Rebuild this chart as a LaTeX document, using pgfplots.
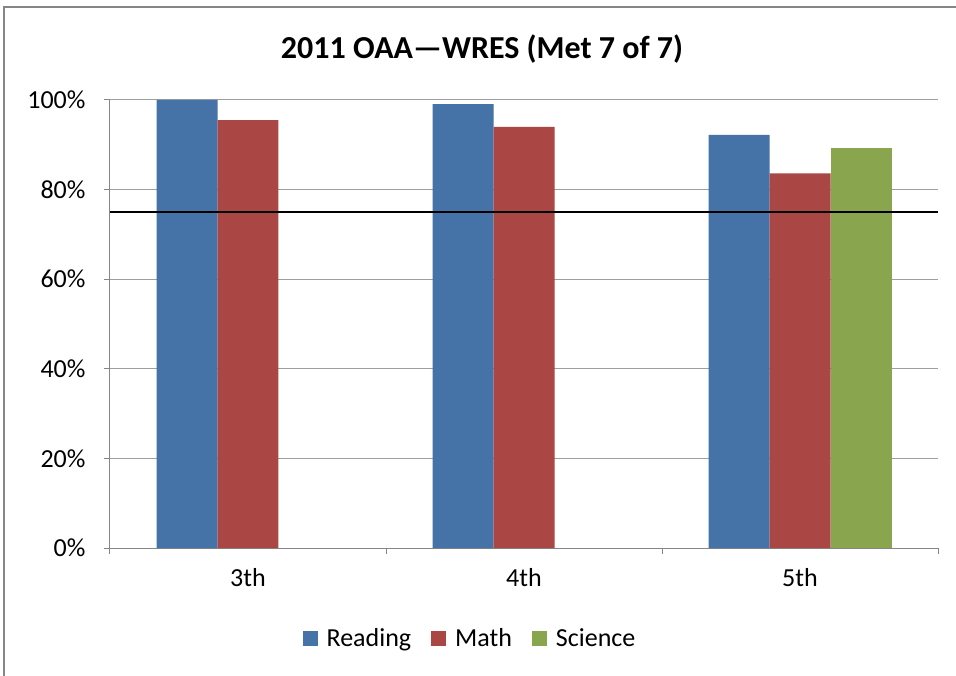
\documentclass[border=0pt]{standalone}
\usepackage{fontspec}
\setmainfont{Carlito}
\usepackage{pgfplots}
\pgfplotsset{compat=1.18}

\definecolor{cRead}{HTML}{4572A7}
\definecolor{cMath}{HTML}{AA4643}
\definecolor{cSci}{HTML}{89A54E}
\definecolor{gridgray}{HTML}{868686}

\begin{document}
\begin{tikzpicture}[x=1pt,y=1pt]
\useasboundingbox (0,0) rectangle (956,675);
\draw[gridgray, line width=1.5pt] (4,-20) rectangle (990,668);
\node[font=\bfseries\fontsize{32}{38}\selectfont] at (482,626) {2011 OAA—WRES (Met 7 of 7)};
\begin{axis}[
    at={(110pt,127pt)}, anchor=south west,
    scale only axis, width=828pt, height=448pt,
    ybar, bar width=0.221,
    xmin=0.5, xmax=3.5, ymin=0, ymax=100,
    axis x line=bottom, axis y line=left,
    axis line style={draw=gridgray, line width=1pt, -},
    tick align=outside, major tick length=6pt,
    tick style={draw=gridgray, line width=1pt},
    xtick={0.5,1.5,2.5,3.5}, xticklabels={},
    extra x ticks={1,2,3}, extra x tick labels={3th,4th,5th},
    extra x tick style={major tick length=0pt},
    xticklabel style={font=\fontsize{26}{30}\selectfont, yshift=-17pt},
    ytick={0,20,...,100},
    yticklabel={\pgfmathprintnumber{\tick}\%},
    yticklabel style={font=\fontsize{26}{30}\selectfont, xshift=-15pt},
    /pgf/number format/assume math mode=true,
    ymajorgrids, grid style={draw=gridgray!80, line width=1pt},
    legend style={at={(0.4348,-0.2009)}, anchor=center, draw=none,
        font=\fontsize{26}{30}\selectfont, legend columns=-1,
        inner sep=0pt,
        /tikz/every odd column/.append style={column sep=7pt},
        /tikz/every even column/.append style={column sep=18pt}},
    legend image code/.code={\fill[#1] (0pt,-7.5pt) rectangle (15pt,7.5pt);},
]
\addplot[fill=cRead, draw=none, bar shift=-0.221] coordinates {(1,100) (2,99.1) (3,92.2)};
\addplot[fill=cMath, draw=none, bar shift=0] coordinates {(1,95.5) (2,94.0) (3,83.6)};
\addplot[fill=cSci, draw=none, bar shift=0.221] coordinates {(3,89.3)};
\addplot[sharp plot, black, line width=2pt, forget plot] coordinates {(0.5,75) (3.5,75)};
\legend{Reading, Math, Science}
\end{axis}
\end{tikzpicture}
\end{document}
